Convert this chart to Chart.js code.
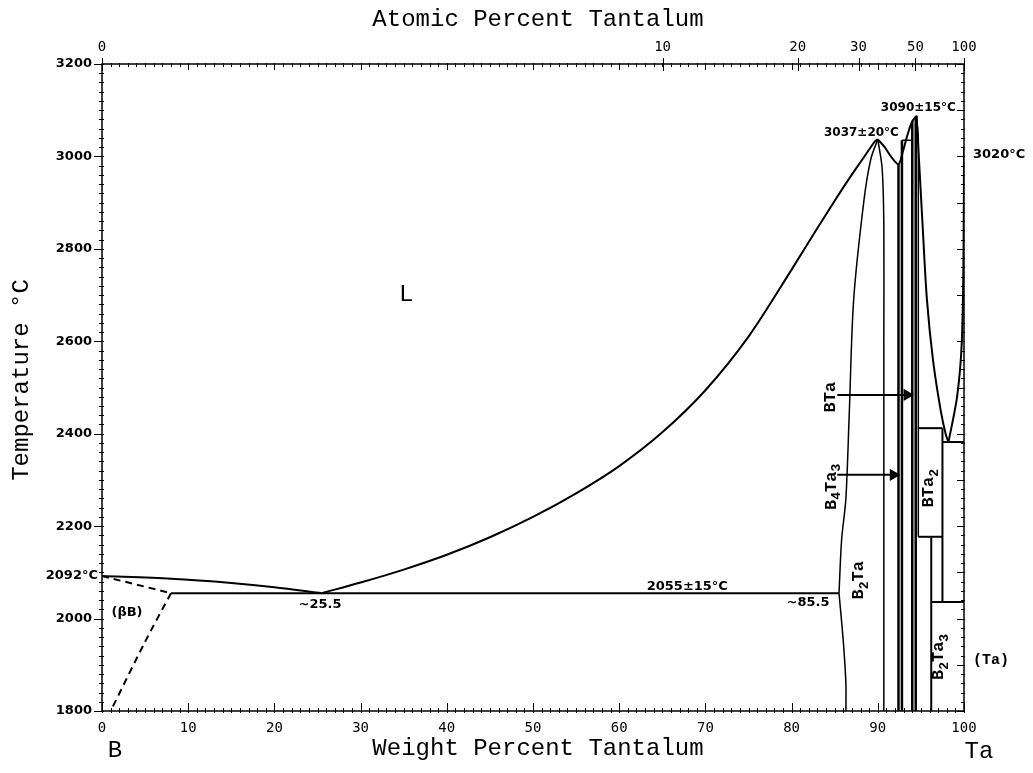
<!DOCTYPE html>
<html>
<head>
<meta charset="utf-8">
<script src="https://cdn.jsdelivr.net/npm/chart.js@4.4.0/dist/chart.umd.min.js"></script>
<style>
  html, body { margin: 0; padding: 0; background: #fff; }
  #wrap { width: 1033px; height: 773px; }
</style>
</head>
<body>
<div id="wrap"><canvas id="diagram" width="1033" height="773"></canvas></div>
<script>
// оси
var T_TICKS = [1800, 2000, 2200, 2400, 2600, 2800, 3000, 3200];
var WT_TICKS = [0, 10, 20, 30, 40, 50, 60, 70, 80, 90, 100];
var AT_TICKS = [0, 10, 20, 30, 50, 100];

// линии диаграммы B-Ta: [вес.% Ta, °C]
var liqBSide      = [[0, 2092], [8, 2086], [15, 2077], [20, 2068], [25.5, 2055]];
var liqMain       = [[25.5, 2055], [30, 2078], [35, 2106], [40, 2138], [45, 2176], [50, 2220], [55, 2271],
                     [60, 2330], [65, 2403], [70, 2494], [75, 2610], [80, 2755], [83, 2845], [85, 2904],
                     [86.5, 2947], [88, 2988], [89, 3015], [89.6, 3031], [90.0, 3037]];
var eutectic      = [[8, 2055], [85.5, 2055]];
var betaBSolidus  = [[0, 2092], [8, 2055]];
var betaBSolvus   = [[8, 2055], [5, 1950], [1, 1800]];
var b2taLeftLow   = [[85.5, 2055], [86.0, 1950], [86.3, 1860], [86.3, 1800]];
var b2taLeftHigh  = [[85.5, 2055], [85.8, 2170], [86.3, 2260], [86.7, 2450], [87.2, 2690], [88.4, 2906], [89.2, 2995], [90.0, 3037]];
var b2taRight     = [[90.0, 3037], [90.5, 2975], [90.7, 2850], [90.7, 2600], [90.7, 1800]];
var liqB2TaBTa    = [[90.0, 3037], [90.8, 3020], [91.6, 2998], [92.4, 2983], [92.9, 3010], [93.5, 3050], [94.0, 3076], [94.5, 3088]];
var b4ta3A        = [[92.4, 1800], [92.4, 2983]];
var b4ta3B        = [[92.8, 1800], [92.8, 3035]];
var b4ta3Top      = [[92.8, 3035], [94.0, 3035]];
var btaA          = [[94.0, 1800], [94.0, 3076]];
var btaB          = [[94.4, 1800], [94.4, 3086]];
var btaRight      = [[94.5, 3088], [94.7, 3040], [94.7, 2177]];
var liqBTaTa      = [[94.5, 3088], [95.2, 2850], [95.7, 2690], [96.4, 2560], [97.3, 2450], [97.9, 2397], [98.2, 2382]];
var liqTa         = [[98.2, 2382], [99.2, 2480], [99.75, 2600], [99.95, 2800], [100, 3020]];
var bta2Top       = [[94.7, 2412], [97.5, 2412]];
var bta2Right     = [[97.5, 2412], [97.5, 2036]];
var bta2Bottom    = [[94.7, 2177], [97.5, 2177]];
var eutecticTa    = [[97.5, 2382], [100, 2382]];
var b2ta3Line     = [[96.2, 2177], [96.2, 1800]];
var eutectoidTa   = [[96.2, 2036], [100, 2036]];
var arrowBTa      = [[85.3, 2484], [93.4, 2484]];
var arrowB4Ta3    = [[85.3, 2311], [91.8, 2311]];

// подписи внутри поля: текст, вес.%, °C, шрифт, поворот
var NOTES = [
  ['L', 35.3, 2700, 'normal 24px "Liberation Mono"', 0],
  ['(βB)', 2.9, 2012, 'bold 13px "DejaVu Sans"', 0],
  ['~25.5', 25.3, 2031, 'bold 13px "DejaVu Sans"', 0],
  ['2055±15°C', 67.9, 2070, 'bold 13px "DejaVu Sans"', 0],
  ['~85.5', 81.9, 2034, 'bold 13px "DejaVu Sans"', 0],
  ['3037±20°C', 88.1, 3051, 'bold 12px "DejaVu Sans"', 0],
  ['3090±15°C', 94.7, 3105, 'bold 12px "DejaVu Sans"', 0],
  ['BTa', 84.5, 2479, 'bold 17px "Liberation Mono"', -90],
  ['B_4Ta_3', 84.6, 2285, 'bold 17px "Liberation Mono"', -90],
  ['B_2Ta', 87.8, 2083, 'bold 17px "Liberation Mono"', -90],
  ['BTa_2', 95.9, 2282, 'bold 17px "Liberation Mono"', -90],
  ['B_2Ta_3', 97.1, 1917, 'bold 17px "Liberation Mono"', -90]
];

function atToWt(a) {
  var ta = a * 180.95, b = (100 - a) * 10.81;
  return a >= 100 ? 100 : 100 * ta / (ta + b);
}

function line(pts, extra) {
  var ds = {
    data: pts.map(function (p) { return { x: p[0], y: p[1] }; }),
    showLine: true,
    borderColor: '#000',
    borderWidth: 2,
    pointRadius: 0,
    fill: false,
    tension: 0
  };
  for (var k in extra) ds[k] = extra[k];
  return ds;
}

function arrow(pts) {
  return line(pts, {
    borderWidth: 2,
    pointRadius: [0, 5],
    pointStyle: 'triangle',
    rotation: 90,
    pointBackgroundColor: '#000',
    pointBorderColor: '#000'
  });
}

// текст с нижними индексами (_x)
function richText(ctx, s, x, y, font, rot) {
  var parts = [];
  for (var i = 0; i < s.length; i++) {
    if (s[i] === '_') { parts.push([s[i + 1], true]); i++; }
    else parts.push([s[i], false]);
  }
  var size = parseInt(font.match(/(\d+)px/)[1], 10);
  var subFont = font.replace(size + 'px', Math.round(size * 0.75) + 'px');
  var w = 0;
  parts.forEach(function (p) { ctx.font = p[1] ? subFont : font; w += ctx.measureText(p[0]).width; });
  ctx.save();
  ctx.translate(x, y);
  ctx.rotate(rot * Math.PI / 180);
  ctx.textBaseline = 'middle';
  ctx.textAlign = 'left';
  var cx = -w / 2;
  parts.forEach(function (p) {
    ctx.font = p[1] ? subFont : font;
    ctx.fillText(p[0], cx, p[1] ? size * 0.35 : 0);
    cx += ctx.measureText(p[0]).width;
  });
  ctx.restore();
}

var framePlugin = {
  id: 'frameTicks',
  afterDraw: function (chart) {
    var ctx = chart.ctx, a = chart.chartArea;
    var sx = chart.scales.x, sy = chart.scales.y, sx2 = chart.scales.x2;
    ctx.save();
    ctx.strokeStyle = '#000';
    ctx.lineWidth = 1.5;
    ctx.strokeRect(a.left, a.top, a.right - a.left, a.bottom - a.top);
    ctx.lineWidth = 1;
    ctx.beginPath();
    var t, w, px, py, len;
    for (t = 1800; t <= 3200; t += 20) {
      py = Math.round(sy.getPixelForValue(t)) + 0.5;
      len = t % 200 === 0 ? 8 : 3;
      ctx.moveTo(a.left - len, py); ctx.lineTo(a.left + 2, py);
      len = t % 100 === 0 ? 7 : 3;
      ctx.moveTo(a.right - len, py); ctx.lineTo(a.right + 1, py);
    }
    for (w = 0; w <= 100; w += 1) {
      px = Math.round(sx.getPixelForValue(w)) + 0.5;
      len = w % 10 === 0 ? 8 : 3;
      ctx.moveTo(px, a.bottom - len); ctx.lineTo(px, a.bottom + 2);
      len = w % 10 === 0 ? 6 : 3;
      ctx.moveTo(px, a.top - 1); ctx.lineTo(px, a.top + len);
    }
    AT_TICKS.forEach(function (v) {
      px = Math.round(sx2.getPixelForValue(atToWt(v))) + 0.5;
      ctx.moveTo(px, a.top - 6); ctx.lineTo(px, a.top + 7);
    });
    ctx.stroke();

    // подписи
    ctx.fillStyle = '#000';
    NOTES.forEach(function (n) {
      richText(ctx, n[0], sx.getPixelForValue(n[1]), sy.getPixelForValue(n[2]), n[3], n[4]);
    });
    ctx.textBaseline = 'middle';
    ctx.font = 'bold 13px "DejaVu Sans"';
    ctx.textAlign = 'right';
    ctx.fillText('2092°C', a.left - 4, sy.getPixelForValue(2092));
    ctx.textAlign = 'left';
    ctx.fillText('3020°C', a.right + 9, sy.getPixelForValue(3020) + 7);
    ctx.font = 'bold 15px "Liberation Mono"';
    ctx.fillText('(Ta)', a.right + 9, sy.getPixelForValue(1910));

    ctx.font = 'normal 24px "Liberation Mono"';
    ctx.textAlign = 'center';
    ctx.fillText('Atomic Percent Tantalum', 538, 20);
    ctx.fillText('Weight Percent Tantalum', 538, 749);
    ctx.fillText('B', a.left + 13, 751);
    ctx.fillText('Ta', a.right + 15, 752);
    ctx.save();
    ctx.translate(22, 380);
    ctx.rotate(-Math.PI / 2);
    ctx.fillText('Temperature °C', 0, 0);
    ctx.restore();
    ctx.restore();
  }
};

var datasets = [
  line(liqBSide, { tension: 0.3 }),
  line(liqMain, { cubicInterpolationMode: 'monotone' }),
  line(eutectic),
  line(betaBSolidus, { borderDash: [7, 5] }),
  line(betaBSolvus, { borderDash: [7, 5], tension: 0.3 }),
  line(b2taLeftLow, { tension: 0.3, borderWidth: 1.5 }),
  line(b2taLeftHigh, { tension: 0.3, borderWidth: 1.5 }),
  line(b2taRight, { tension: 0.3, borderWidth: 1.5 }),
  line(liqB2TaBTa, { tension: 0.3 }),
  line(b4ta3A, { borderWidth: 2.5 }),
  line(b4ta3B, { borderWidth: 2.5 }),
  line(b4ta3Top, { borderWidth: 1.5 }),
  line(btaA, { borderWidth: 2.5 }),
  line(btaB, { borderWidth: 2.5 }),
  line(btaRight, { borderWidth: 1.5 }),
  line(liqBTaTa, { tension: 0.3 }),
  line(liqTa, { tension: 0.3 }),
  line(bta2Top),
  line(bta2Right),
  line(bta2Bottom),
  line(eutecticTa),
  line(b2ta3Line),
  line(eutectoidTa),
  arrow(arrowBTa),
  arrow(arrowB4Ta3)
];

var chart = new Chart(document.getElementById('diagram'), {
  type: 'scatter',
  data: { datasets: datasets },
  plugins: [framePlugin],
  options: {
    responsive: false,
    animation: false,
    devicePixelRatio: 1,
    layout: { padding: 0 },
    plugins: { legend: { display: false }, tooltip: { enabled: false } },
    scales: {
      x: {
        type: 'linear', position: 'bottom', min: 0, max: 100,
        afterBuildTicks: function (s) { s.ticks = WT_TICKS.map(function (v) { return { value: v }; }); },
        afterFit: function (s) { s.height = 62; },
        grid: { display: false, drawTicks: false },
        border: { display: false },
        ticks: { color: '#000', padding: 9, maxRotation: 0, autoSkip: false,
                 callback: function (v) { return String(v); },
                 font: { family: '"DejaVu Sans Mono"', size: 14 } }
      },
      x2: {
        type: 'linear', position: 'top', min: 0, max: 100,
        afterBuildTicks: function (s) { s.ticks = AT_TICKS.map(function (v) { return { value: atToWt(v) }; }); },
        afterFit: function (s) { s.height = 64; },
        grid: { display: false, drawTicks: false },
        border: { display: false },
        ticks: { color: '#000', padding: 8, maxRotation: 0, autoSkip: false,
                 callback: function (v, i) { return String(AT_TICKS[i]); },
                 font: { family: '"DejaVu Sans Mono"', size: 14 } }
      },
      y: {
        type: 'linear', position: 'left', min: 1800, max: 3200,
        afterBuildTicks: function (s) { s.ticks = T_TICKS.map(function (v) { return { value: v }; }); },
        afterFit: function (s) { s.width = 102; },
        grid: { display: false, drawTicks: false },
        border: { display: false },
        ticks: { color: '#000', padding: 10, autoSkip: false,
                 callback: function (v) { return String(v); },
                 font: { family: '"DejaVu Sans"', size: 13, weight: 'bold' } }
      },
      y2: {
        type: 'linear', position: 'right', min: 1800, max: 3200,
        afterFit: function (s) { s.width = 69; },
        grid: { display: false, drawTicks: false },
        border: { display: false },
        ticks: { display: false }
      }
    }
  }
});
</script>
</body>
</html>
